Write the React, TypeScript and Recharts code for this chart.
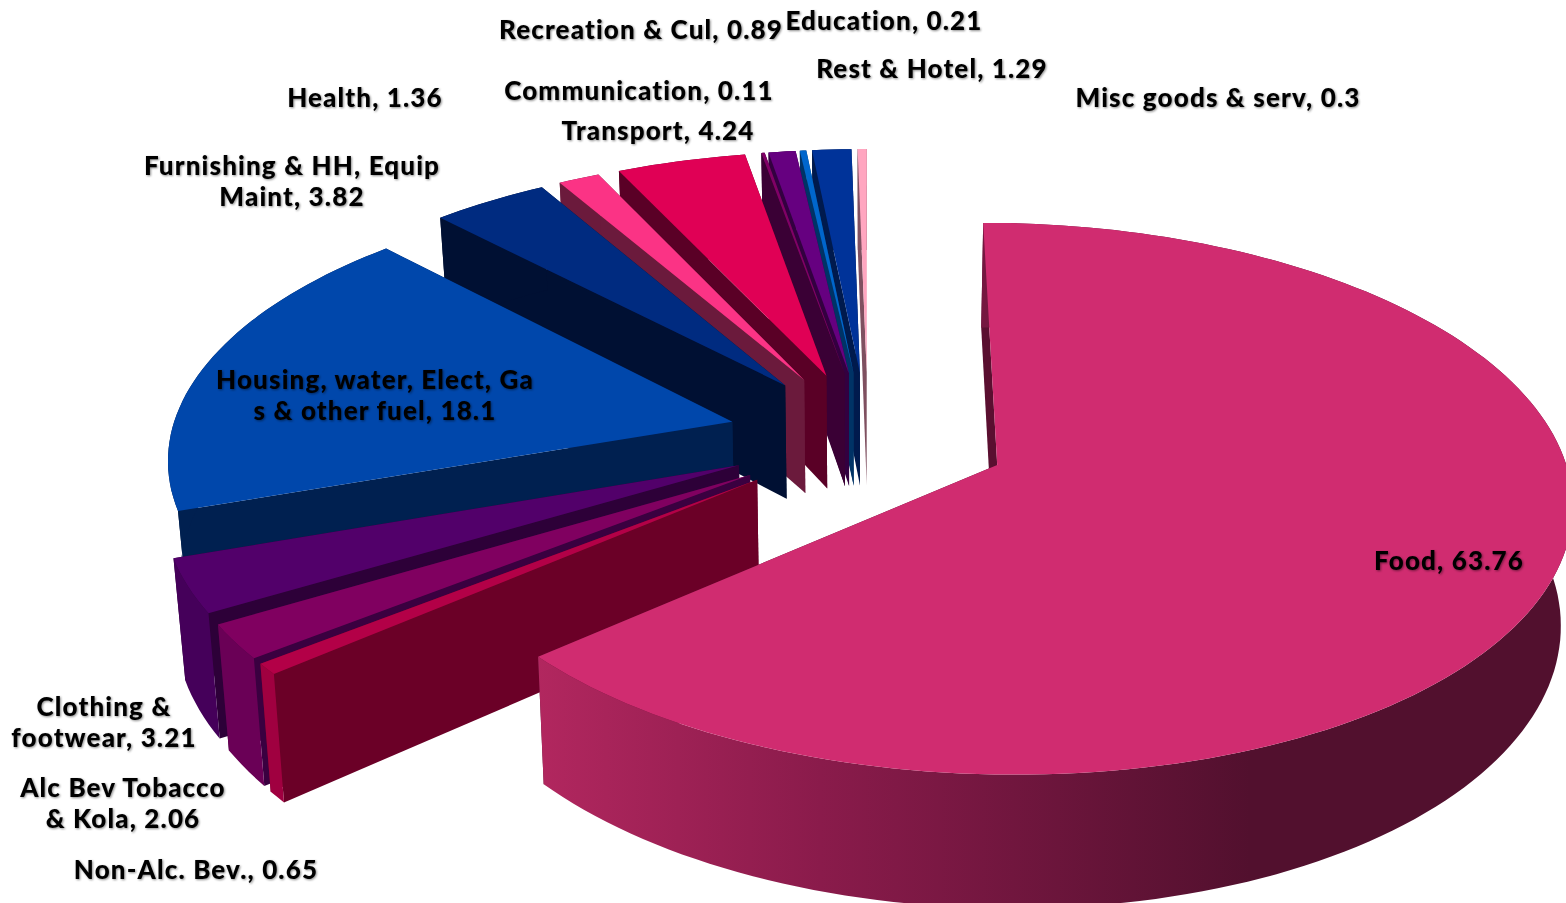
import React from 'react';
import { PieChart, Pie } from 'recharts';

// listed back to front so nearer slices paint over farther ones
const names = ['Misc goods & serv', 'Rest & Hotel', 'Education', 'Recreation & Cul', 'Communication', 'Transport', 'Health', 'Furnishing & HH, Equip Maint', 'Housing, water, Elect, Gas & other fuel', 'Clothing & footwear', 'Alc Bev Tobacco & Kola', 'Non-Alc. Bev.', 'Food'];
const values = [0.3, 1.29, 0.21, 0.89, 0.11, 4.24, 1.36, 3.82, 18.1, 3.21, 2.06, 0.65, 63.76];
const topColors = ['#FFA6C0', '#003399', '#0066CC', '#660080', '#800066', '#E00055', '#FB3385', '#002B80', '#0047AB', '#52006A', '#800060', '#B30047', '#D02C70'];
const sideColors = ['#7F5060', '#001A4D', '#003366', '#330040', '#3A0035', '#5A0026', '#6B1A3C', '#001033', '#002050', '#2D0038', '#3A0040', '#6B0027', '#5A0F30'];
const rimColors = ['#7F5060', '#001A4D', '#003366', '#330040', '#3A0035', '#5A0026', '#6B1A3C', '#001033', '#002050', '#45005A', '#6A0056', '#A00040', 'url(#foodWall)'];
const labelLines = [['Misc goods & serv, 0.3'], ['Rest & Hotel, 1.29'], ['Education, 0.21'], ['Recreation & Cul, 0.89'], ['Communication, 0.11'], ['Transport, 4.24'], ['Health, 1.36'], ['Furnishing & HH, Equip', 'Maint, 3.82'], ['Housing, water, Elect, Ga', 's & other fuel, 18.1'], ['Clothing &', 'footwear, 3.21'], ['Alc Bev Tobacco', '& Kola, 2.06'], ['Non-Alc. Bev., 0.65'], ['Food, 63.76']];
const labelX = [1218, 932, 884, 641, 639, 658, 365, 292, 375, 104, 123, 196, 1449];
const labelY = [107, 78, 30, 39, 100, 140, 107, 175, 389, 716, 797, 879, 570];

const data = names.map((name, i) => ({ name, value: values[i], idx: i }));

const TILT = 0.4715; // squash of the disc
const PERSP = 0.1204; // far side shrinks
const EXPLODE = 0.25;
const DEPTH = 116;
const BASE_SHRINK = 0.983;

const Slice3D = (props: any) => {
  const { cx, cy, outerRadius: R, startAngle, endAngle, payload } = props;
  const idx = payload?.idx ?? props.idx ?? 0;
  const rad = (d: number) => (d * Math.PI) / 180;
  const mid = rad((startAngle + endAngle) / 2);
  const ox = EXPLODE * Math.cos(mid);
  const oy = EXPLODE * Math.sin(mid);

  const top = (u: number, v: number) => {
    const s = 1 / (1 + PERSP * v);
    return [cx + R * u * s, cy - R * TILT * v * s];
  };
  const bottom = (u: number, v: number) => {
    const s = 1 / (1 + PERSP * v);
    const p = top(u, v);
    return [cx + (p[0] - cx) * BASE_SHRINK, p[1] + DEPTH * s];
  };
  const ring: number[][] = [];
  const steps = Math.max(2, Math.ceil(Math.abs(endAngle - startAngle) / 1.5));
  for (let i = 0; i <= steps; i++) {
    const a = rad(startAngle + ((endAngle - startAngle) * i) / steps);
    ring.push([ox + Math.cos(a), oy + Math.sin(a)]);
  }
  const toPath = (pts: number[][]) => 'M' + pts.map((p) => p[0].toFixed(1) + ',' + p[1].toFixed(1)).join('L') + 'Z';

  const apexTop = top(ox, oy);
  const apexBottom = bottom(ox, oy);
  const first = ring[0];
  const last = ring[ring.length - 1];
  const wallA = [apexTop, top(first[0], first[1]), bottom(first[0], first[1]), apexBottom];
  const wallB = [apexTop, top(last[0], last[1]), bottom(last[0], last[1]), apexBottom];
  const rim = [...ring.map((p) => top(p[0], p[1])), ...ring.slice().reverse().map((p) => bottom(p[0], p[1]))];
  const face = [apexTop, ...ring.map((p) => top(p[0], p[1]))];

  return (
    <g>
      <path d={toPath(wallA)} fill={sideColors[idx]} />
      <path d={toPath(wallB)} fill={sideColors[idx]} />
      <path d={toPath(rim)} fill={rimColors[idx]} />
      <path d={toPath(face)} fill={topColors[idx]} />
    </g>
  );
};

const renderLabel = (props: any) => {
  const idx = props.payload?.idx ?? props.idx ?? 0;
  return (
    <text
      key={idx}
      textAnchor="middle"
      fontFamily="Lato, sans-serif"
      fontWeight={900}
      fontSize={26}
      letterSpacing={1.15}
      fill="#000"
      style={{ filter: 'drop-shadow(1px 1px 1px rgba(0,0,0,0.45))' }}
    >
      {labelLines[idx].map((line, j) => (
        <tspan key={j} x={labelX[idx]} y={labelY[idx] + j * 31}>
          {line}
        </tspan>
      ))}
    </text>
  );
};

const App = () => {
  return (
    <div style={{ position: 'absolute', left: 0, top: 0, width: 1566, height: 903, overflow: 'hidden' }}>
      <PieChart width={1566} height={903} margin={{ top: 0, right: 0, bottom: 0, left: 0 }}>
        <defs>
          <linearGradient id="foodWall" gradientUnits="userSpaceOnUse" x1="535" y1="0" x2="1250" y2="0">
            <stop offset="0" stopColor="#B2275F" />
            <stop offset="0.4" stopColor="#8A1B4B" />
            <stop offset="1" stopColor="#52102E" />
          </linearGradient>
        </defs>
        <Pie
          data={data}
          dataKey="value"
          nameKey="name"
          cx={868}
          cy={437}
          innerRadius={0}
          outerRadius={562}
          startAngle={90}
          endAngle={450}
          stroke="none"
          shape={Slice3D}
          label={renderLabel}
          labelLine={false}
          isAnimationActive={false}
        />
      </PieChart>
    </div>
  );
};

export default App;
